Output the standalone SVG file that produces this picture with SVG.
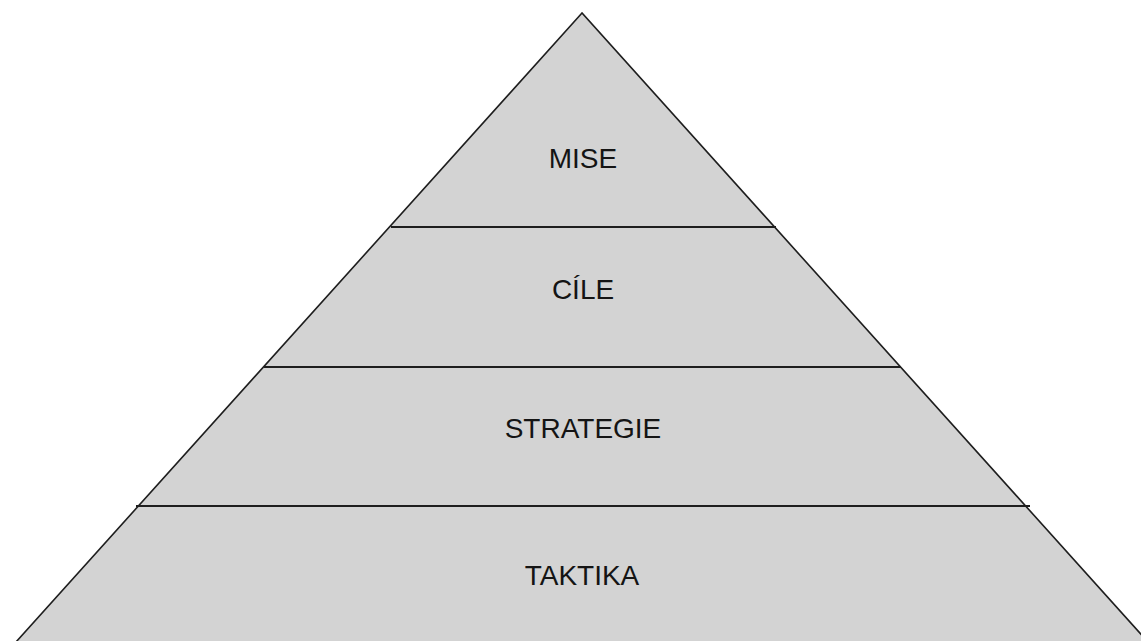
<svg xmlns="http://www.w3.org/2000/svg" width="1141" height="641" viewBox="0 0 1141 641">
  <style>
    .edge { fill: #d3d3d3; stroke: #1e1e1e; stroke-width: 1.6; stroke-linejoin: miter; }
    .band { stroke: #1e1e1e; stroke-width: 2; fill: none; }
    .lbl { font-family: "Liberation Sans", Arial, sans-serif; font-size: 28px; fill: #141414; text-anchor: middle; }
  </style>
  <rect width="1141" height="641" fill="#ffffff"/>
  <g id="pyramid">
    <polygon class="edge" points="582,13 -20,682 1184,682"/>
  </g>
  <g id="connectors">
    <line class="band" x1="391" y1="227" x2="776" y2="227"/>
    <line class="band" x1="264" y1="367" x2="901" y2="367"/>
    <line class="band" x1="136" y1="506" x2="1030" y2="506"/>
  </g>
  <g id="mise"><text class="lbl" x="583" y="168">MISE</text></g>
  <g id="cile"><text class="lbl" x="583" y="299">CÍLE</text></g>
  <g id="strategie"><text class="lbl" x="583" y="438">STRATEGIE</text></g>
  <g id="taktika"><text class="lbl" x="582" y="585">TAKTIKA</text></g>
</svg>
